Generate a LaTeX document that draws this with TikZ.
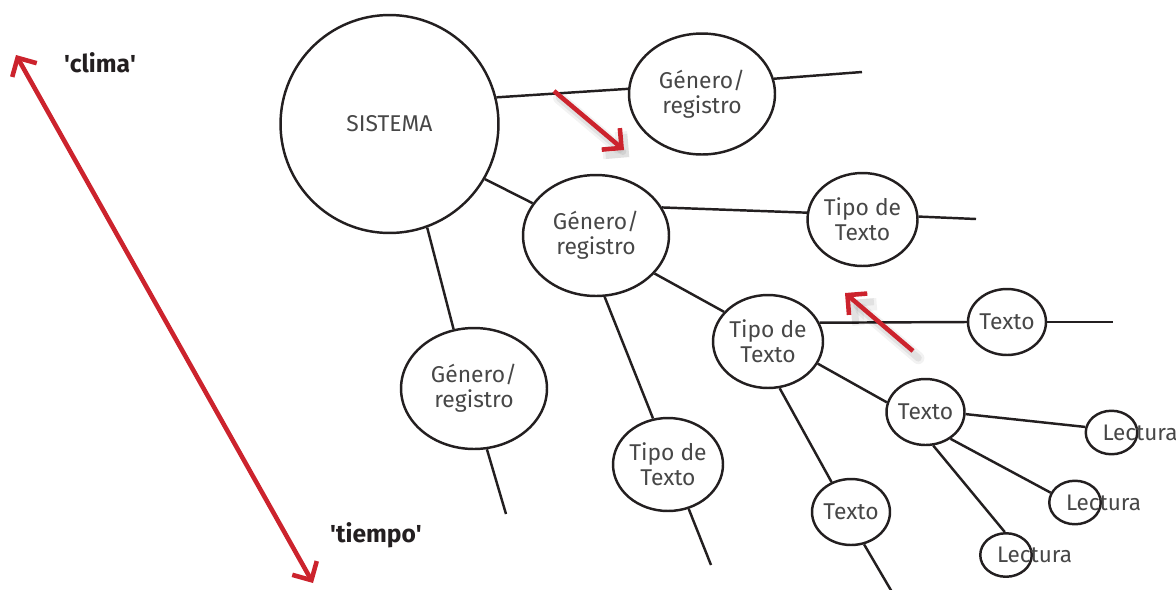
\documentclass[tikz,border=0pt]{standalone}
\usepackage{fontspec}
\setmainfont{Fira Sans}
\usetikzlibrary{shapes.geometric}
\usetikzlibrary{arrows.meta}
\definecolor{arrowred}{RGB}{204,35,45}
\definecolor{ink}{RGB}{35,31,32}
\tikzset{>={Straight Barb[length=8pt,width=16pt]}}
\tikzset{link/.style={line width=1.4pt, draw=ink}}
\tikzset{blob/.style={draw=ink, line width=1.4pt, ellipse, inner sep=0pt, align=center, text=black!72, font=\fontsize{13}{14}\selectfont}}
\tikzset{gen/.style={blob, minimum width=2.92cm, minimum height=2.42cm}}
\tikzset{tipo/.style={blob, minimum width=2.2cm, minimum height=1.86cm}}
\tikzset{txt/.style={blob, minimum width=1.56cm, minimum height=1.32cm}}
\tikzset{lect/.style={blob, minimum width=1.03cm, minimum height=0.87cm}}
\tikzset{redarrow/.style={line width=2.6pt, draw=arrowred}}
\tikzset{shade/.style={
  preaction={draw=black, opacity=0.05, line width=7pt, line cap=round, transform canvas={shift={(3pt,-4pt)}}},
  preaction={draw=black, opacity=0.07, line width=4pt, line cap=round, transform canvas={shift={(3pt,-4pt)}}}}}
\tikzset{tag/.style={font=\fontsize{14}{16}\bfseries, text=ink}}

\begin{document}
\begin{tikzpicture}[x=0.02cm, y=-0.02cm]
\useasboundingbox (0,0) rectangle (1176,589);

%%% the tree
\node[blob, circle, minimum size=4.36cm, font=\fontsize{13}{15}\selectfont] (sis) at (389.5,124) {SISTEMA};

\node[gen] (gen1) at (702,94) {Género/\\registro};
\node[gen] (gen2) at (596,235.5) {Género/\\registro};
\node[gen] (gen3) at (474,388.5) {Género/\\registro};

\node[tipo] (tip1) at (862.5,219.5) {Tipo de\\Texto};
\node[tipo] (tip2) at (768,341.5) {Tipo de\\Texto};
\node[tipo] (tip3) at (668,464.5) {Tipo de\\Texto};

\node[txt] (tex1) at (1007,322) {Texto};
\node[txt] (tex2) at (925.5,412) {Texto};
\node[txt] (tex3) at (851,512) {Texto};

\node[lect, label={[xshift=0.57cm, text=black!72, font=\fontsize{12.8}{14}\selectfont]center:Lectura}] (lec1) at (1111.5,432.5) {};
\node[lect, label={[xshift=0.57cm, text=black!72, font=\fontsize{12.8}{14}\selectfont]center:Lectura}] (lec2) at (1075,502.5) {};
\node[lect, label={[xshift=0.57cm, text=black!72, font=\fontsize{12.8}{14}\selectfont]center:Lectura}] (lec3) at (1006,555) {};

% loose ends
\coordinate (end1) at (862,72);
\coordinate (end2) at (506,514);
\coordinate (end3) at (976,219);
\coordinate (end4) at (711,565);
\coordinate (end5) at (1113,322);
\coordinate (end6) at (892,592);

\draw[link] (sis.14) -- (gen1.176);
\draw[link] (gen1.12) -- (end1);
\draw[link] (sis.-30) -- (gen2.153);
\draw[link] (sis.-70) -- (gen3.109);
\draw[link] (gen3.-78) -- (end2);

\draw[link] (gen2.23) -- (tip1.173);
\draw[link] (tip1.3) -- (end3);
\draw[link] (gen2.-33) -- (tip2.146);
\draw[link] (gen2.-82) -- (tip3.108);
\draw[link] (tip3.-65) -- (end4);

\draw[link] (tip2.20) -- (tex1.180);
\draw[link] (tex1.0) -- (end5);
\draw[link] (tip2.-24) -- (tex2.166);
\draw[link] (tip2.-76) -- (tex3.123);
\draw[link] (tex3.-68) -- (end6);

\draw[link] (tex2.-3) -- (lec1.168);
\draw[link] (tex2.-47) -- (lec2.158);
\draw[link] (tex2.-77) -- (lec3.93);

%%% the red arrows
\coordinate (clima) at (16,55);
\coordinate (tiempo) at (313,583);
\node[tag] (climatag) at (100,63) {\textquotesingle clima\textquotesingle};
\node[tag] (tiempotag) at (376,535) {\textquotesingle tiempo\textquotesingle};
\draw[redarrow, <->] (clima) -- (tiempo);

\coordinate (a1) at (554,91);
\coordinate (b1) at (624,150);
\coordinate (a2) at (913,351);
\coordinate (b2) at (845,293);
\draw[redarrow, ->, shade] (a1) -- (b1);
\draw[redarrow, ->, shade] (a2) -- (b2);

\end{tikzpicture}
\end{document}
